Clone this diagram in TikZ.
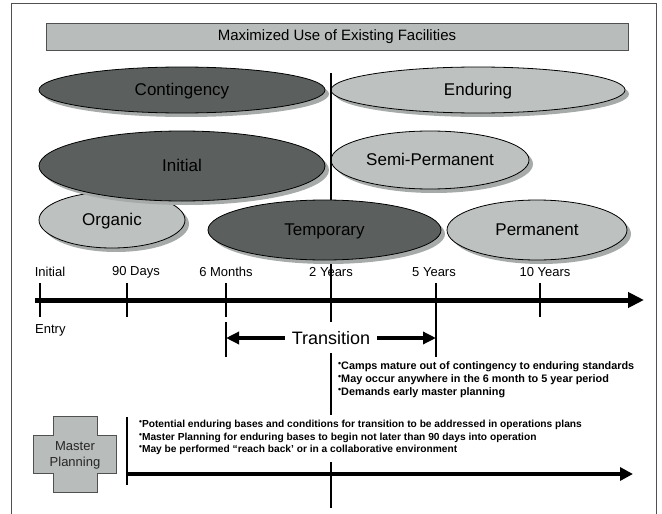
\documentclass[tikz,border=0pt]{standalone}
\usepackage{fontspec}
\setmainfont{Liberation Sans}
\usepackage{graphicx}
\usetikzlibrary{shapes.geometric}
\usetikzlibrary{shadows}
\usetikzlibrary{arrows.meta}

\definecolor{darkfill}{HTML}{5B605F}
\definecolor{lightfill}{HTML}{BDC1C0}
\definecolor{shadowgray}{HTML}{A6AAA9}
\definecolor{barfill}{HTML}{B8BCBA}
\definecolor{framegray}{HTML}{505050}

\newcommand{\bul}{\raisebox{0.5ex}{\scalebox{0.8}{\textbullet}}}

\tikzset{
    phase/.style={ellipse, draw=black, line width=0.8pt, inner sep=0pt,
        font=\fontsize{17}{20}\selectfont, text depth=1pt,
        drop shadow={shadow xshift=4pt, shadow yshift=-4pt, fill=shadowgray, opacity=1}},
    darkphase/.style={phase, fill=darkfill},
    lightphase/.style={phase, fill=lightfill},
    ticklabel/.style={font=\fontsize{13}{15}\selectfont, inner sep=0pt},
    tickmark/.style={line width=2.6pt},
    vline/.style={line width=2.4pt},
    notes/.style={anchor=north west, align=left, inner sep=0pt},
}

\begin{document}
\begin{tikzpicture}[x=1pt, y=-1pt]
    \useasboundingbox (0,0) rectangle (662,514);
    \draw[framegray, line width=1pt] (11,514) -- (11,3) -- (656,3) -- (656,514);

    \node[draw=framegray, fill=barfill, line width=0.8pt, minimum width=582pt, minimum height=27pt,
        font=\fontsize{15}{17}\selectfont] (facilities) at (337,36.5) {Maximized Use of Existing Facilities};

    % phases, back to front
    \foreach \lbl/\cx/\cy/\rx/\ry/\shade in {Contingency/182/90/143/23/dark,
        Enduring/478/90/147/23/light, Semi-Permanent/430/160/99/29/light,
        Organic/112/220/73/28/light, Initial/182/166/143/35/dark} {
        \node[\shade phase, minimum width={2*\rx pt}, minimum height={2*\ry pt}] (\lbl) at (\cx,\cy) {\lbl};
    }

    \foreach[count=\k] \vy in {73,322,353,415,462,508} {
        \coordinate (v-\k) at (331,\vy);
    }

    % time axis
    \coordinate (ax-start) at (35,300);
    \coordinate (ax-end) at (644,300);
    \draw[line width=5pt, -{Triangle[length=16pt, width=15pt]}] (ax-start) -- (ax-end);
    \foreach[count=\i] \lbl/\tx/\lx in {Initial/40/50, 90 Days/127/136, 6 Months/226/226,
        2 Years/331/331, 5 Years/436/434, 10 Years/540/545} {
        \node[ticklabel] (tl-\i) at (\lx,272) {\lbl};
        \coordinate (tk-\i) at (\tx,283);
        \coordinate (tb-\i) at (\tx,317);
        \draw[tickmark] (tk-\i) -- (tb-\i);
    }
    \node[ticklabel, anchor=west] (entry) at (35,330) {Entry};

    \draw[vline] (v-1) -- (v-2);
    \draw[vline] (v-3) -- (v-4);
    \draw[vline] (v-5) -- (v-6);

    \node[darkphase, minimum width=233pt, minimum height=60pt] (Temporary) at (324.5,230) {Temporary};
    \node[lightphase, minimum width=180pt, minimum height=60pt] (Permanent) at (537,230) {Permanent};

    % transition window
    \coordinate (trl-top) at (226,322);
    \coordinate (trl-bot) at (226,357);
    \coordinate (trr-top) at (436,317);
    \coordinate (trr-bot) at (436,357);
    \draw[tickmark] (trl-top) -- (trl-bot);
    \draw[tickmark] (trr-top) -- (trr-bot);
    \node[font=\fontsize{18}{20}\selectfont, inner xsep=7pt] (transition) at (331,338) {Transition};
    \draw[line width=3.6pt, -{Triangle[length=13pt, width=12pt]}] (transition.west) -- (trl-top |- transition.west);
    \draw[line width=3.6pt, -{Triangle[length=13pt, width=12pt]}] (transition.east) -- (trr-top |- transition.east);

    \node[notes, font=\bfseries\fontsize{10.85}{13}\selectfont] (tr-notes) at (338,361)
        {\bul Camps mature out of contingency to enduring standards\\
         \bul May occur anywhere in the 6 month to 5 year period\\
         \bul Demands early master planning};

    % master planning
    \filldraw[fill=barfill, draw=framegray, line width=0.8pt] (53,416) -- (97,416) -- (97,435) -- (116,435)
        -- (116,473) -- (97,473) -- (97,492) -- (53,492) -- (53,473) -- (33,473) -- (33,435) -- (53,435) -- cycle;
    \node[font=\fontsize{13}{16}\selectfont, align=center, text=black!85] (master) at (75,455) {Master\\Planning};

    \coordinate (mp-top) at (127,417);
    \coordinate (mp-bot) at (127,485);
    \coordinate (mp-start) at (127,474);
    \coordinate (mp-end) at (633,474);
    \draw[line width=2.6pt] (mp-top) -- (mp-bot);
    \draw[line width=4pt, -{Triangle[length=13pt, width=13pt]}] (mp-start) -- (mp-end);

    \node[notes, font=\bfseries\fontsize{10.2}{12.5}\selectfont] (mp-notes) at (139,420)
        {\bul Potential enduring bases and conditions for transition to be addressed in operations plans\\
         \bul Master Planning for enduring bases to begin not later than 90 days into operation\\
         \bul May be performed “reach back' or in a collaborative environment};
\end{tikzpicture}
\end{document}
